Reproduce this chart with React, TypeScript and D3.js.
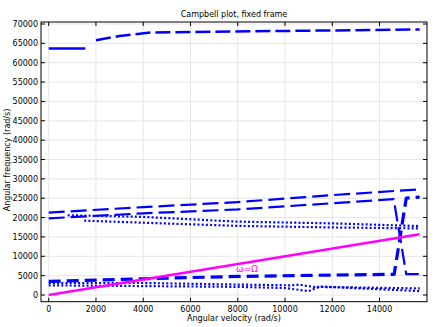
import React from "react";
import * as d3 from "d3";

type P = [number, number];

const xTicks = [0, 2000, 4000, 6000, 8000, 10000, 12000, 14000];
const yTicks = [0, 5000, 10000, 15000, 20000, 25000, 30000, 35000, 40000, 45000, 50000, 55000, 60000, 65000, 70000];

const topLeft: P[] = [[0, 63700], [1550, 63700]];
const topMain: P[] = [[2000, 65800], [3000, 66900], [4300, 67800], [6000, 67950], [10000, 68200], [15700, 68600]];
const upperA: P[] = [[0, 21300], [4000, 22700], [8000, 24000], [12000, 25800], [15700, 27300]];
const upperB: P[] = [[0, 19800], [4000, 21100], [8000, 22100], [12000, 23700], [14600, 24750], [15130, 5400], [15700, 5400]];
const dotted1: P[] = [[800, 20600], [3900, 20200], [8000, 18950], [12000, 18500], [15700, 17800]];
const dotted2: P[] = [[1500, 19200], [3900, 18700], [8000, 17850], [12000, 17450], [15700, 17200]];
const lowerThick: P[] = [[0, 3500], [4000, 4200], [8000, 4800], [12000, 5150], [14620, 5350], [15130, 25000], [15700, 25300]];
const lowDot1: P[] = [[0, 3100], [4000, 3100], [8000, 2700], [10200, 2500], [10600, 2650], [11200, 2100], [15700, 1700]];
const lowDot2: P[] = [[0, 2500], [4000, 2300], [8000, 2100], [10000, 1800], [11000, 1000], [11500, 2200], [15700, 1000]];
const omegaLine: P[] = [[0, 0], [15700, 15700]];

const W = 438, H = 327;
const L = 41, R = 427, T = 22, B = 301.7;

export default function App() {
  const x = d3.scaleLinear().domain([-326, 16009]).range([L, R]);
  const y = d3.scaleLinear().domain([-1731, 70517]).range([B, T]);
  const line = d3.line<P>().x(d => x(d[0])).y(d => y(d[1]));
  const font = "DejaVu Sans, sans-serif";
  const blue = "#0000ff";
  return (
    <svg width={W} height={H} style={{ position: "absolute", left: 0, top: 0, background: "#fff" }}>
      <rect x={0} y={0} width={W} height={H} fill="#fff" />
      {xTicks.map(t => (
        <line key={"gx" + t} x1={x(t)} x2={x(t)} y1={T} y2={B} stroke="#e6e6e6" strokeWidth={1} />
      ))}
      {yTicks.map(t => (
        <line key={"gy" + t} x1={L} x2={R} y1={y(t)} y2={y(t)} stroke="#e6e6e6" strokeWidth={1} />
      ))}
      <g fill="none" stroke={blue} strokeLinejoin="round">
        <path d={line(topLeft) || ""} strokeWidth={2.5} />
        <path d={line(topMain) || ""} strokeWidth={2.5} strokeDasharray="15 5" />
        <path d={line(upperA) || ""} strokeWidth={2.2} strokeDasharray="16 6" />
        <path d={line(upperB) || ""} strokeWidth={2.2} strokeDasharray="16 6" />
        <path d={line(dotted1) || ""} strokeWidth={2.2} strokeDasharray="2 2.2" />
        <path d={line(dotted2) || ""} strokeWidth={2.2} strokeDasharray="2 2.2" />
        <path d={line(lowDot1) || ""} strokeWidth={2.2} strokeDasharray="2 2.2" />
        <path d={line(lowDot2) || ""} strokeWidth={2.2} strokeDasharray="2 2.2" />
        <path d={line(lowerThick) || ""} strokeWidth={3.2} strokeDasharray="12 6" />
      </g>
      <path d={line(omegaLine) || ""} fill="none" stroke="#ff00ff" strokeWidth={2.5} />
      <text x={247} y={272} fill="#ff00ff" fontFamily={font} fontSize={9} textAnchor="middle">ω=Ω</text>
      <rect x={L} y={T} width={R - L} height={B - T} fill="none" stroke="#000" strokeWidth={1} />
      {xTicks.map(t => (
        <g key={"tx" + t}>
          <line x1={x(t)} x2={x(t)} y1={B} y2={B - 4} stroke="#000" />
          <line x1={x(t)} x2={x(t)} y1={T} y2={T + 4} stroke="#000" />
          <text x={x(t)} y={312} fontFamily={font} fontSize={8} textAnchor="middle" fill="#000">{t}</text>
        </g>
      ))}
      {yTicks.map(t => (
        <g key={"ty" + t}>
          <line x1={L} x2={L + 4} y1={y(t)} y2={y(t)} stroke="#000" />
          <line x1={R} x2={R - 4} y1={y(t)} y2={y(t)} stroke="#000" />
          <text x={38} y={y(t) + 3} fontFamily={font} fontSize={8} textAnchor="end" fill="#000">{t}</text>
        </g>
      ))}
      <text x={234} y={17} fontFamily={font} fontSize={8} textAnchor="middle" fill="#000">Campbell plot, fixed frame</text>
      <text x={234} y={321} fontFamily={font} fontSize={8} textAnchor="middle" fill="#000">Angular velocity (rad/s)</text>
      <text transform="translate(10,160) rotate(-90)" fontFamily={font} fontSize={8} textAnchor="middle" fill="#000">Angular frequency (rad/s)</text>
    </svg>
  );
}
